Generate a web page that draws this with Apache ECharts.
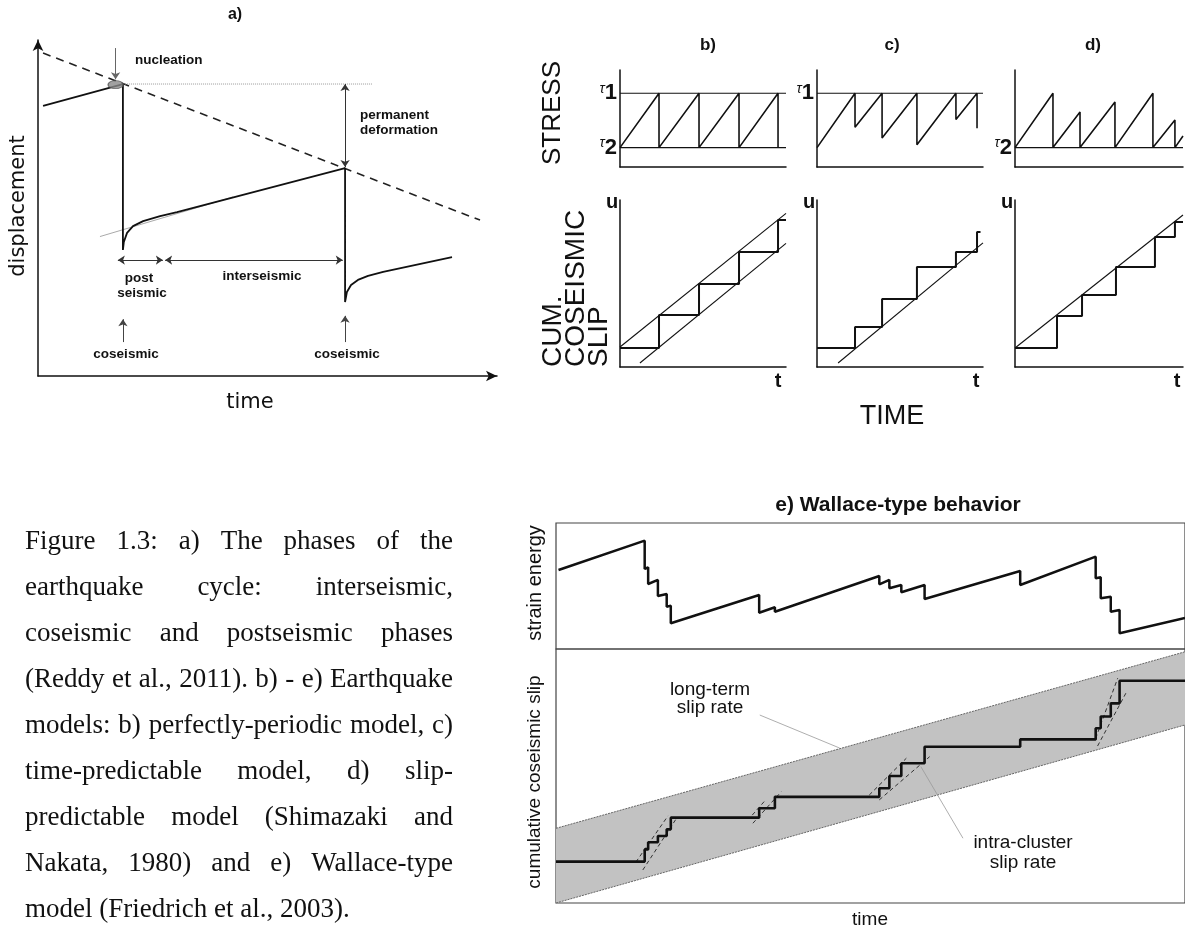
<!DOCTYPE html>
<html>
<head>
<meta charset="utf-8">
<script src="https://cdn.jsdelivr.net/npm/echarts@6/dist/echarts.min.js"></script>
<style>
  html, body { margin: 0; padding: 0; background: #fff; }
  #main { width: 1185px; height: 931px; }
</style>
</head>
<body>
<div id="main"></div>
<script>
// ---------- a) earthquake cycle (time 0-100, displacement 0-100) ----------
const cycleDisplacement = [
  [1.1, 80.4], [18.5, 86.9], [18.5, 37.5],
  [18.7, 39.9], [19.4, 42.6], [20.7, 44.6], [22.9, 46.1], [26.6, 47.6], [30.3, 48.8],
  [66.9, 61.9], [66.9, 22.0],
  [67.3, 25.0], [68.2, 27.1], [69.7, 28.6], [71.9, 29.8], [75.2, 31.0], [90.2, 35.4]
];
const cycleLongTermTrend = [[1.1, 96.1], [96.3, 46.4]];
const cycleInterseismicTrend = [[13.5, 41.5], [42.5, 53.3]];
const nucleationPoint = [[16.9, 86.7]];
const nucleationLevel = [[18.5, 86.9], [72.8, 86.9]];
const arrowNucleation = [[16.9, 97.6], [16.9, 88.3]];
const arrowPermanent = [[66.9, 86.9], [66.9, 62.2]];
const arrowPostseismic = [[17.4, 34.5], [27.2, 34.5]];
const arrowInterseismic = [[27.7, 34.5], [66.4, 34.5]];
const arrowCoseismic1 = [[18.5, 10.1], [18.5, 16.9]];
const arrowCoseismic2 = [[66.9, 10.1], [66.9, 17.9]];

// ---------- b) c) d) stress and cumulative slip (time 0-1, value 0-1) ----------
const tauTickValues = [0.76, 0.2];
const tauTickLabels = ['τ1', 'τ2'];

const stressPeriodic = [[0, 0.2], [0.235, 0.76], [0.235, 0.2], [0.476, 0.76], [0.476, 0.2],
  [0.717, 0.76], [0.717, 0.2], [0.952, 0.76], [0.952, 0.2]];
const stressTimePred = [[0, 0.2], [0.229, 0.76], [0.229, 0.41], [0.392, 0.76], [0.392, 0.30],
  [0.602, 0.76], [0.602, 0.23], [0.837, 0.76], [0.837, 0.49], [0.964, 0.76], [0.964, 0.40]];
const stressSlipPred = [[0, 0.2], [0.226, 0.76], [0.226, 0.2], [0.387, 0.567], [0.387, 0.2],
  [0.595, 0.67], [0.595, 0.2], [0.821, 0.76], [0.821, 0.2], [0.952, 0.485], [0.952, 0.2], [1.0, 0.32]];

const slipPeriodic = [[0, 0.114], [0.235, 0.114], [0.235, 0.311], [0.476, 0.311], [0.476, 0.497],
  [0.717, 0.497], [0.717, 0.689], [0.952, 0.689], [0.952, 0.88], [1.0, 0.88]];
const slipPeriodicUpper = [[0, 0.12], [1.0, 0.92]];
const slipPeriodicLower = [[0.12, 0.024], [1.0, 0.74]];

const slipTimePred = [[0, 0.114], [0.229, 0.114], [0.229, 0.24], [0.392, 0.24], [0.392, 0.407],
  [0.602, 0.407], [0.602, 0.599], [0.837, 0.599], [0.837, 0.689], [0.964, 0.689], [0.964, 0.808], [0.985, 0.808]];
const slipTimePredLine = [[0.127, 0.024], [1.0, 0.743]];

const slipSlipPred = [[0, 0.114], [0.25, 0.114], [0.25, 0.305], [0.399, 0.305], [0.399, 0.431],
  [0.601, 0.431], [0.601, 0.599], [0.833, 0.599], [0.833, 0.778], [0.952, 0.778], [0.952, 0.868], [1.0, 0.868]];
const slipSlipPredLine = [[0, 0.114], [1.0, 0.91]];

// ---------- e) Wallace-type behavior (time 0-100, value 0-100) ----------
const strainEnergy = [
  [0.4, 62.7], [14.1, 86.0], [14.1, 63.5], [14.65, 64.8], [14.65, 51.6], [16.2, 54.8], [16.2, 42.1],
  [17.6, 43.7], [17.6, 33.6], [18.25, 34.4], [18.25, 20.4], [32.3, 42.9], [32.3, 28.8], [34.8, 33.1],
  [34.8, 29.6], [51.4, 57.9], [51.4, 51.3], [53.0, 54.8], [53.0, 48.2], [54.9, 50.8], [54.9, 45.0],
  [58.6, 50.8], [58.6, 39.7], [73.8, 61.9], [73.8, 50.8], [85.8, 73.3], [85.8, 56.1], [86.6, 56.9],
  [86.6, 40.2], [88.2, 41.5], [88.2, 29.6], [89.6, 31.0], [89.6, 12.5], [100, 24.6]
];
const cumulativeSlip = [
  [0, 16.3], [14.1, 16.3], [14.1, 21.1], [14.65, 21.1], [14.65, 23.9], [16.2, 23.9], [16.2, 26.4],
  [17.6, 26.4], [17.6, 29.0], [18.25, 29.0], [18.25, 33.6], [32.3, 33.6], [32.3, 37.3], [34.8, 37.3],
  [34.8, 41.8], [51.4, 41.8], [51.4, 45.2], [53.0, 45.2], [53.0, 50.0], [54.9, 50.0], [54.9, 55.0],
  [58.6, 55.0], [58.6, 61.5], [73.8, 61.5], [73.8, 64.4], [85.8, 64.4], [85.8, 68.8], [86.6, 68.8],
  [86.6, 73.4], [88.2, 73.4], [88.2, 78.6], [89.6, 78.6], [89.6, 87.5], [100, 87.5]
];
const longTermUpper = [[0, 29.4], [100, 98.9]];
const longTermLower = [[0, 0], [100, 70.1]];
const intraClusterRates = [
  [[12.7, 16.1], [17.8, 34.3]], [[13.8, 13.0], [19.2, 33.5]],
  [[31.2, 34.6], [33.4, 40.8]], [[31.3, 31.4], [35.8, 43.8]],
  [[49.8, 42.5], [55.7, 57.0]], [[51.4, 40.6], [59.4, 57.6]],
  [[85.8, 64.8], [89.3, 88.5]], [[86.1, 61.8], [90.6, 82.6]]
];
const leaderLongTerm = [[32.4, 74.0], [45.1, 61.0]];
const leaderIntraCluster = [[64.7, 25.5], [58.0, 53.7]];

const captionLines = [
  'Figure 1.3: a) The phases of the',
  'earthquake cycle: interseismic,',
  'coseismic and postseismic phases',
  '(Reddy et al., 2011). b) - e) Earthquake',
  'models: b) perfectly-periodic model, c)',
  'time-predictable model, d) slip-',
  'predictable model (Shimazaki and',
  'Nakata, 1980) and e) Wallace-type',
  'model (Friedrich et al., 2003).'
];

// ---------- option building ----------
const SANS = '"Liberation Sans", Arial, Helvetica, sans-serif';
const INK = '#111';
const grids = [], xAxes = [], yAxes = [], series = [], graphic = [];

function hidden(extra) {
  return Object.assign({ type: 'value', axisTick: { show: false }, axisLabel: { show: false },
    splitLine: { show: false }, axisLine: { show: false } }, extra || {});
}
function panel(rect, xr, yr, xa, ya) {
  const i = grids.length;
  grids.push(rect);
  xAxes.push(hidden(Object.assign({ gridIndex: i, min: xr[0], max: xr[1] }, xa || {})));
  yAxes.push(hidden(Object.assign({ gridIndex: i, min: yr[0], max: yr[1] }, ya || {})));
  return i;
}
function line(i, data, style, extra) {
  series.push(Object.assign({ type: 'line', xAxisIndex: i, yAxisIndex: i, data, symbol: 'none',
    showSymbol: false, silent: true, animation: false, z: 3,
    lineStyle: Object.assign({ color: INK, width: 1.5 }, style) }, extra || {}));
}
function arrows(i, list, both, color) {
  series.push({ type: 'lines', coordinateSystem: 'cartesian2d', xAxisIndex: i, yAxisIndex: i,
    silent: true, animation: false, z: 4,
    symbol: both ? ['arrow', 'arrow'] : ['none', 'arrow'], symbolSize: 7,
    lineStyle: { color, width: 1, opacity: 1 },
    data: list.map(c => ({ coords: c })) });
}
function txt(text, x, y, font, o) {
  o = o || {};
  return { type: 'text', x, y, rotation: o.rot || 0, scaleX: o.sx || 1, z: 100, silent: true,
    style: { text, font, fill: o.fill || INK, align: o.align || 'center', verticalAlign: o.va || 'middle' } };
}
const axisShow = { show: true, onZero: false, lineStyle: { color: INK, width: 1.5 } };

// a) panel
const A = panel({ left: 38, right: 1185 - 497, top: 40, bottom: 931 - 376 }, [0, 100], [0, 100],
  { axisLine: Object.assign({ symbol: ['none', 'arrow'], symbolSize: [8, 11] }, axisShow) },
  { axisLine: Object.assign({ symbol: ['none', 'arrow'], symbolSize: [8, 11] }, axisShow) });
line(A, cycleLongTermTrend, { width: 1.6, type: [8, 6], color: '#222' });
line(A, cycleInterseismicTrend, { width: 1, color: '#aaa' });
line(A, nucleationLevel, { width: 1, type: 'dotted', color: '#999' });
line(A, cycleDisplacement, { width: 1.8 });
series.push({ type: 'scatter', xAxisIndex: A, yAxisIndex: A, data: nucleationPoint, symbol: 'circle',
  symbolSize: [15, 8], silent: true, z: 5, itemStyle: { color: '#8a8a8a', borderColor: '#555', borderWidth: 1 } });
arrows(A, [arrowNucleation], false, '#666');
arrows(A, [arrowPermanent, arrowPostseismic, arrowInterseismic], true, '#333');
arrows(A, [arrowCoseismic1, arrowCoseismic2], false, '#444');

// b) c) d) panels
function tauAxis(values) {
  return {
    axisLine: axisShow,
    axisLabel: {
      show: true, customValues: values, margin: 3,
      formatter: v => {
        const lab = tauTickLabels[tauTickValues.indexOf(v)] || '';
        return '{t|' + lab.charAt(0) + '}{n|' + lab.slice(1) + '}';
      },
      rich: {
        t: { fontFamily: SANS, fontSize: 14, fontStyle: 'italic', color: INK, padding: [0, 0, 9, 0] },
        n: { fontFamily: SANS, fontSize: 22, fontWeight: 'bold', color: INK }
      }
    }
  };
}
const cols = [
  { left: 620, stress: stressPeriodic, taus: [0.76, 0.2], slip: slipPeriodic, rates: [slipPeriodicUpper, slipPeriodicLower] },
  { left: 817, stress: stressTimePred, taus: [0.76], slip: slipTimePred, rates: [slipTimePredLine] },
  { left: 1015, stress: stressSlipPred, taus: [0.2], slip: slipSlipPred, rates: [slipSlipPredLine] }
];
cols.forEach((c, k) => {
  const w = k === 2 ? 168 : 166;
  const S = panel({ left: c.left, width: w, top: 70, bottom: 931 - 167 }, [0, 1], [0, 1],
    { axisLine: axisShow }, tauAxis(c.taus));
  c.taus.forEach(tv => line(S, [[0, tv], [1, tv]], { width: 1.1 }));
  line(S, c.stress, { width: 1.6 });
  const U = panel({ left: c.left, width: w, top: 200, bottom: 931 - 367 }, [0, 1], [0, 1],
    { axisLine: axisShow }, { axisLine: axisShow });
  c.rates.forEach(r => line(U, r, { width: 1.1 }));
  line(U, c.slip, { width: 2 });
});

// e) panels
const gridBorder = { show: true, borderColor: '#444', borderWidth: 1.2, backgroundColor: 'transparent' };
const E1 = panel(Object.assign({ left: 556, right: -2, top: 523, bottom: 931 - 649 }, gridBorder), [0, 100], [0, 100]);
line(E1, strainEnergy, { width: 2.5 });
const E2 = panel(Object.assign({ left: 556, right: -2, top: 649, bottom: 931 - 903 }, gridBorder), [0, 100], [0, 100]);
series.push({ type: 'custom', xAxisIndex: E2, yAxisIndex: E2, data: [[0, 0]], silent: true, z: 1,
  renderItem: (params, api) => {
    const pts = longTermUpper.map(p => api.coord(p))
      .concat(longTermLower.slice().reverse().map(p => api.coord(p)));
    return { type: 'polygon', shape: { points: pts }, style: { fill: '#c2c2c2', stroke: null } };
  } });
line(E2, longTermUpper, { width: 1, color: '#666', type: [2, 1] });
line(E2, longTermLower, { width: 1, color: '#666', type: [2, 1] });
intraClusterRates.forEach(r => line(E2, r, { width: 1, color: '#333', type: [4, 3] }));
line(E2, leaderLongTerm, { width: 0.8, color: '#999' });
line(E2, leaderIntraCluster, { width: 0.8, color: '#999' });
line(E2, cumulativeSlip, { width: 2.6 });

// ---------- texts ----------
const LAB = 'bold 13.5px ' + SANS;
const DV = '21px "DejaVu Sans", Verdana, sans-serif';
graphic.push(
  txt('a)', 235, 15, 'bold 16px ' + SANS),
  txt('nucleation', 135, 60, LAB, { align: 'left' }),
  txt('permanent', 360, 115, LAB, { align: 'left' }),
  txt('deformation', 360, 130, LAB, { align: 'left' }),
  txt('post', 139, 278, LAB),
  txt('seismic', 142, 293, LAB),
  txt('interseismic', 262, 276, LAB),
  txt('coseismic', 126, 354, LAB),
  txt('coseismic', 347, 354, LAB),
  txt('time', 250, 403, DV),
  txt('displacement', 19, 206, DV, { rot: Math.PI / 2 }),

  txt('b)', 708, 45, 'bold 17px ' + SANS),
  txt('c)', 892, 45, 'bold 17px ' + SANS),
  txt('d)', 1093, 45, 'bold 17px ' + SANS),
  txt('STRESS', 553, 113, '26px ' + SANS, { rot: Math.PI / 2 }),
  txt('CUM.', 553, 367, '28px ' + SANS, { rot: Math.PI / 2, align: 'left' }),
  txt('COSEISMIC', 576, 367, '28px ' + SANS, { rot: Math.PI / 2, align: 'left' }),
  txt('SLIP', 599, 367, '28px ' + SANS, { rot: Math.PI / 2, align: 'left' }),
  txt('TIME', 892, 417, '27px ' + SANS),

  txt('e) Wallace-type behavior', 898, 505, 'bold 21px ' + SANS),
  txt('strain energy', 535, 583, '20px ' + SANS, { rot: Math.PI / 2 }),
  txt('cumulative coseismic slip', 535, 782, '19px ' + SANS, { rot: Math.PI / 2 }),
  txt('time', 870, 920, '19px ' + SANS),
  txt('long-term', 710, 690, '19px ' + SANS),
  txt('slip rate', 710, 708, '19px ' + SANS),
  txt('intra-cluster', 1023, 843, '19px ' + SANS),
  txt('slip rate', 1023, 863, '19px ' + SANS)
);
[612, 809, 1007].forEach(x => graphic.push(txt('u', x, 202, 'bold 20px ' + SANS)));
[778, 976, 1177].forEach(x => graphic.push(txt('t', x, 381, 'bold 20px ' + SANS)));

// caption, justified between x=25 and x=453
const CAP = '27px "Liberation Serif", "Times New Roman", serif';
const mctx = document.createElement('canvas').getContext('2d');
mctx.font = CAP;
captionLines.forEach((ln, k) => {
  const y = 542 + k * 46;
  if (k === captionLines.length - 1) { graphic.push(txt(ln, 25, y, CAP, { align: 'left' })); return; }
  const words = ln.split(' ');
  const widths = words.map(w => mctx.measureText(w).width);
  const total = widths.reduce((s, v) => s + v, 0);
  const gap = (428 - total) / (words.length - 1);
  let x = 25;
  words.forEach((w, i) => { graphic.push(txt(w, x, y, CAP, { align: 'left' })); x += widths[i] + gap; });
});

const chart = echarts.init(document.getElementById('main'), null, { renderer: 'canvas' });
chart.setOption({
  animation: false,
  backgroundColor: '#fff',
  grid: grids, xAxis: xAxes, yAxis: yAxes, series, graphic
});
</script>
</body>
</html>
